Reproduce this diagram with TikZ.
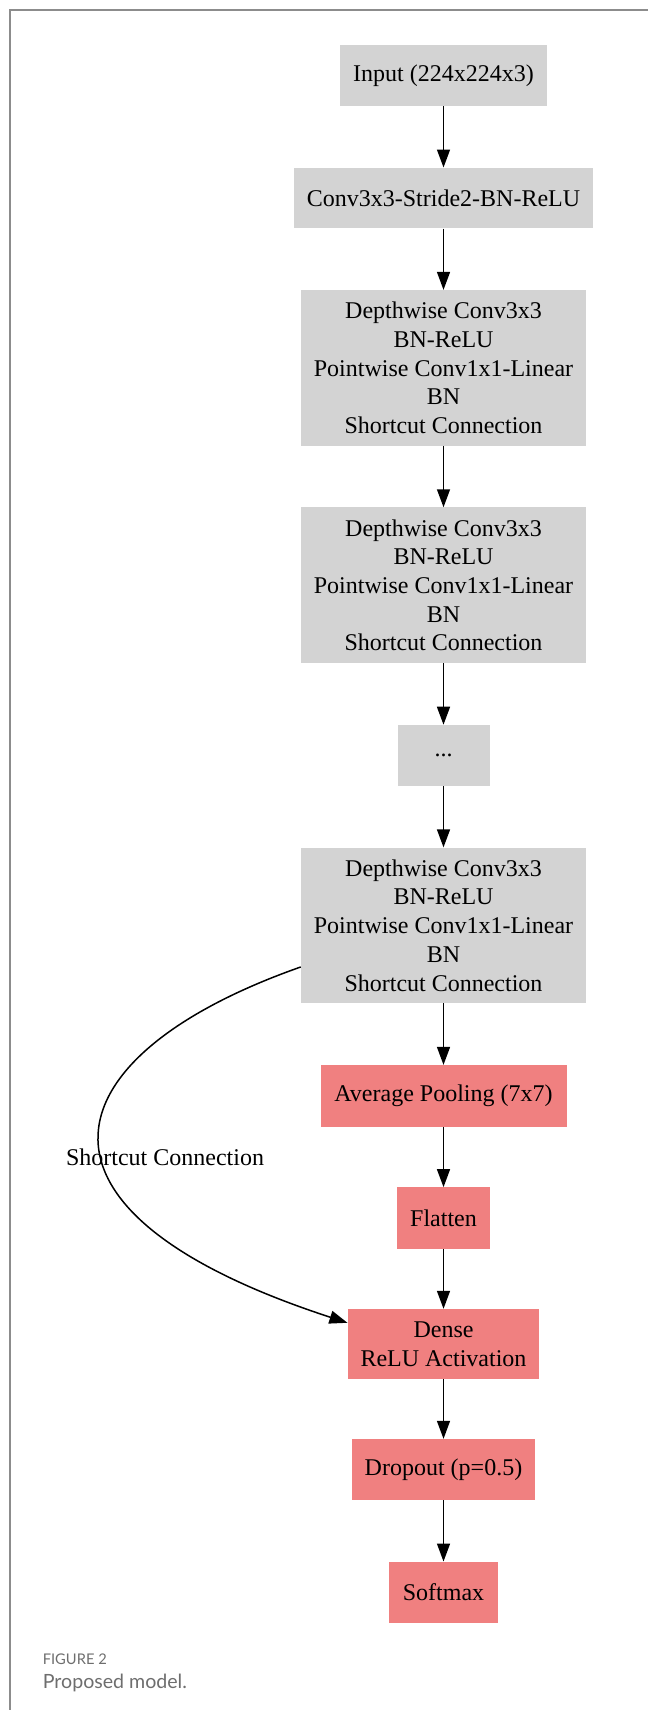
\documentclass[tikz,border=0pt]{standalone}
\usepackage{fontspec}
\setmainfont{Liberation Serif}
\newfontfamily\capfont{Lato}
\usepackage{tikz}
\usetikzlibrary{arrows.meta,calc}

\definecolor{boxgray}{HTML}{D3D3D3}
\definecolor{boxred}{HTML}{F08080}
\definecolor{framegray}{RGB}{140,140,140}
\definecolor{capgray}{RGB}{110,110,110}

\begin{document}
\begin{tikzpicture}[x=1pt,y=-1pt,
  layer/.style={inner sep=0pt,align=center,font=\fontsize{24}{28.7}\selectfont},
  graybox/.style={layer,fill=boxgray},
  redbox/.style={layer,fill=boxred},
  flow/.style={line width=1.5pt,-{Triangle[length=18pt,width=13pt]}}]
\useasboundingbox (0,0) rectangle (648,1710);
\draw[framegray,line width=2pt] (10,1710) -- (10,10) -- (648,10);

% backbone
\node[graybox,minimum width=207.5,minimum height=61] (inp) at (443.5,75.5) {Input (224x224x3)};
\node[graybox,minimum width=299.6,minimum height=60.6] (conv) at (443.5,198) {Conv3x3-Stride2-BN-ReLU};
\node[graybox,minimum width=285,minimum height=155.7] (dwa) at (443.5,367.9)
  {Depthwise Conv3x3\\BN-ReLU\\Pointwise Conv1x1-Linear\\BN\\Shortcut Connection};
\node[graybox,minimum width=285,minimum height=155.7] (dwb) at (443.5,585.3)
  {Depthwise Conv3x3\\BN-ReLU\\Pointwise Conv1x1-Linear\\BN\\Shortcut Connection};
\node[graybox,minimum width=92,minimum height=61] (dots) at (443.5,755.4) {...};
\node[graybox,minimum width=285,minimum height=155.7] (dwc) at (443.5,925.4)
  {Depthwise Conv3x3\\BN-ReLU\\Pointwise Conv1x1-Linear\\BN\\Shortcut Connection};

% head
\node[redbox,minimum width=246,minimum height=61.7] (pool) at (443.5,1095.9) {Average Pooling (7x7)};
\node[redbox,minimum width=92.5,minimum height=61.7] (flat) at (443.5,1218.2) {Flatten};
\node[redbox,minimum width=191.7,minimum height=70] (dense) at (443.5,1344) {Dense\\ReLU Activation};
\node[redbox,minimum width=183.6,minimum height=61] (drop) at (443.5,1469.5) {Dropout (p=0.5)};
\node[redbox,minimum width=108.4,minimum height=61] (soft) at (443.5,1592.2) {Softmax};

\draw[flow] (inp) -- (conv);
\draw[flow] (conv) -- (dwa);
\draw[flow] (dwa) -- (dwb);
\draw[flow] (dwb) -- (dots);
\draw[flow] (dots) -- (dwc);
\draw[flow] (dwc) -- (pool);
\draw[flow] (pool) -- (flat);
\draw[flow] (flat) -- (dense);
\draw[flow] (dense) -- (drop);
\draw[flow] (drop) -- (soft);

% skip edge
\draw[flow] ($(dwc.south west)+(0,-36.5)$) .. controls (53,1054) and (-2,1209) .. ($(dense.north west)+(0,14)$);
\node[layer] (sclabel) at (165,1157) {Shortcut Connection};

% caption
\node[anchor=west,inner sep=0pt,text=capgray,font=\capfont\fontsize{14.7}{16}\selectfont] (figno) at (42.6,1659) {FIGURE 2};
\node[anchor=west,inner sep=0pt,text=capgray,font=\capfont\fontsize{19.6}{22}\selectfont] (figcap) at (42.6,1683) {Proposed model.};
\end{tikzpicture}
\end{document}
